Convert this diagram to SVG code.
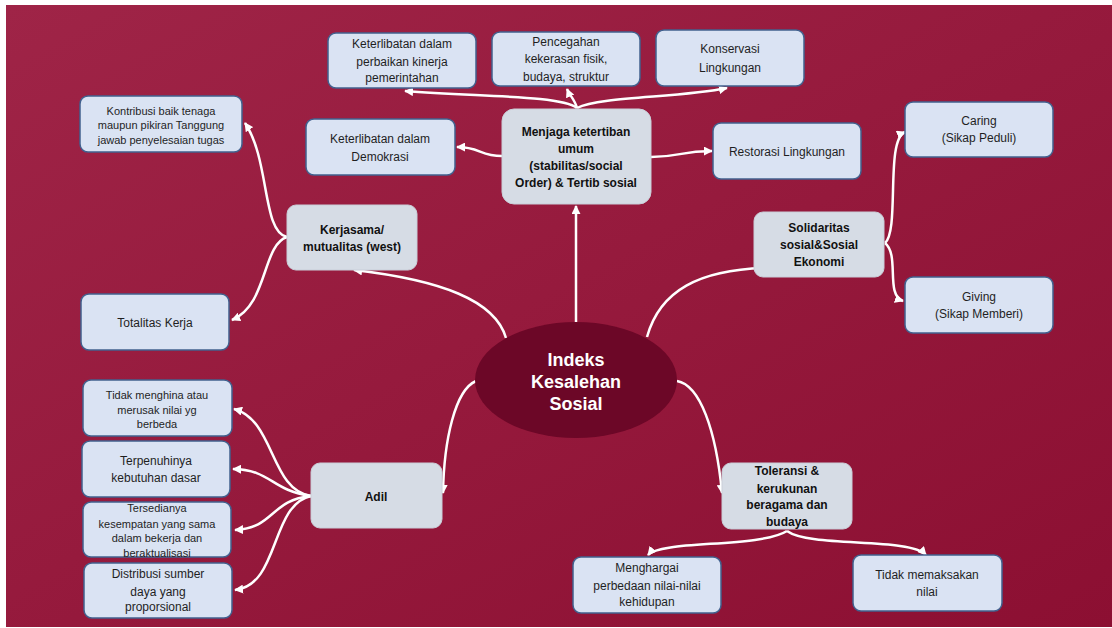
<svg xmlns="http://www.w3.org/2000/svg" width="1112" height="628" viewBox="0 0 1112 628">
<defs>
<linearGradient id="bg" x1="0" y1="0" x2="1" y2="1">
<stop offset="0" stop-color="#9f2447"/>
<stop offset="1" stop-color="#8c0f32"/>
</linearGradient>
<marker id="ah" viewBox="0 0 10 10" refX="9" refY="5" markerWidth="9" markerHeight="9" markerUnits="userSpaceOnUse" orient="auto">
<path d="M0,0 L10,5 L0,10 z" fill="#ffffff"/>
</marker>
</defs>
<style>
.lb{fill:#dae3f3;stroke:#41618f;stroke-width:1.5}
.gb{fill:#d6dce5;stroke:#c9ced8;stroke-width:1}
.t{font-family:"Liberation Sans",Arial,sans-serif;font-size:12px;fill:#1f1f1f;text-anchor:middle}
.s{font-size:11px}
.b{font-weight:bold;fill:#111}
.c{fill:none;stroke:#ffffff;stroke-width:2.5;marker-end:url(#ah)}
.ct{font-family:"Liberation Sans",Arial,sans-serif;font-size:18px;font-weight:bold;fill:#ffffff;text-anchor:middle}
</style>
<rect x="0" y="0" width="1112" height="628" fill="#ffffff"/>
<rect x="6" y="5" width="1106" height="622" fill="url(#bg)"/>

<g id="connectors">
<path class="c" d="M576,323 L576,206"/>
<path class="c" d="M506,338 C495,300 440,280 354,270"/>
<path class="c" d="M647,337 C660,290 700,270 764,268"/>
<path class="c" d="M476,381 C455,390 444,440 443,493"/>
<path class="c" d="M677,381 C700,385 716,430 722,493"/>
<path class="c" d="M577,108 C560,95 480,97 405,91"/>
<path class="c" d="M577,108 C575,100 570,96 567,89"/>
<path class="c" d="M577,108 C600,96 680,98 727,88"/>
<path class="c" d="M502,156 C480,156 480,147 457,147"/>
<path class="c" d="M651,157 C680,157 680,151 712,151"/>
<path class="c" d="M287,237 C262,232 270,160 245,123"/>
<path class="c" d="M287,237 C262,245 268,305 232,320"/>
<path class="c" d="M885,243 C900,230 885,140 905,132"/>
<path class="c" d="M885,243 C900,255 885,295 903,301"/>
<path class="c" d="M311,496 C270,490 275,420 234,409"/>
<path class="c" d="M311,496 C270,490 272,470 233,469"/>
<path class="c" d="M311,496 C270,500 275,528 235,530"/>
<path class="c" d="M311,496 C270,505 280,585 235,590"/>
<path class="c" d="M787,531 C760,548 660,540 648,555"/>
<path class="c" d="M787,531 C810,548 910,537 926,555"/>
</g>

<g id="center">
<ellipse cx="576" cy="380" rx="101" ry="58" fill="#6c0727"/>
<text class="ct" x="576" y="366">Indeks</text>
<text class="ct" x="576" y="388">Kesalehan</text>
<text class="ct" x="576" y="410">Sosial</text>
</g>

<g id="menjaga">
<rect class="gb" x="502" y="109" width="149" height="95" rx="12"/>
<text class="t b" x="576" y="136">Menjaga ketertiban</text>
<text class="t b" x="576" y="153">umum</text>
<text class="t b" x="576" y="170">(stabilitas/social</text>
<text class="t b" x="576" y="187">Order) &amp; Tertib sosial</text>
</g>

<g id="perbaikan">
<rect class="lb" x="328" y="33" width="148" height="55" rx="8"/>
<text class="t" x="402" y="48">Keterlibatan dalam</text>
<text class="t" x="402" y="66">perbaikan kinerja</text>
<text class="t" x="402" y="82">pemerintahan</text>
</g>

<g id="pencegahan">
<rect class="lb" x="492" y="32" width="148" height="54" rx="8"/>
<text class="t" x="566" y="46">Pencegahan</text>
<text class="t" x="566" y="63">kekerasan fisik,</text>
<text class="t" x="566" y="81">budaya, struktur</text>
</g>

<g id="konservasi">
<rect class="lb" x="656" y="30" width="148" height="56" rx="8"/>
<text class="t" x="730" y="53">Konservasi</text>
<text class="t" x="730" y="72">Lingkungan</text>
</g>

<g id="demokrasi">
<rect class="lb" x="306" y="119" width="149" height="56" rx="8"/>
<text class="t" x="380" y="143">Keterlibatan dalam</text>
<text class="t" x="380" y="161">Demokrasi</text>
</g>

<g id="restorasi">
<rect class="lb" x="713" y="123" width="148" height="56" rx="8"/>
<text class="t" x="787" y="156">Restorasi Lingkungan</text>
</g>

<g id="caring">
<rect class="lb" x="905" y="102" width="148" height="55" rx="8"/>
<text class="t" x="979" y="125">Caring</text>
<text class="t" x="979" y="142">(Sikap Peduli)</text>
</g>

<g id="solidaritas">
<rect class="gb" x="754" y="212" width="130" height="65" rx="9"/>
<text class="t b" x="819" y="232">Solidaritas</text>
<text class="t b" x="819" y="249">sosial&amp;Sosial</text>
<text class="t b" x="819" y="266">Ekonomi</text>
</g>

<g id="giving">
<rect class="lb" x="905" y="277" width="148" height="56" rx="8"/>
<text class="t" x="979" y="301">Giving</text>
<text class="t" x="979" y="318">(Sikap Memberi)</text>
</g>

<g id="kontribusi">
<rect class="lb" x="80" y="96" width="162" height="56" rx="8"/>
<text class="t s" x="161" y="115">Kontribusi baik tenaga</text>
<text class="t s" x="161" y="129">maupun pikiran Tanggung</text>
<text class="t s" x="161" y="144">jawab penyelesaian tugas</text>
</g>

<g id="kerjasama">
<rect class="gb" x="287" y="205" width="130" height="65" rx="9"/>
<text class="t b" x="352" y="234">Kerjasama/</text>
<text class="t b" x="352" y="251">mutualitas (west)</text>
</g>

<g id="totalitas">
<rect class="lb" x="81" y="294" width="148" height="56" rx="8"/>
<text class="t" x="155" y="327">Totalitas Kerja</text>
</g>

<g id="menghina">
<rect class="lb" x="83" y="380" width="149" height="56" rx="8"/>
<text class="t s" x="157" y="399">Tidak menghina atau</text>
<text class="t s" x="157" y="414">merusak nilai yg</text>
<text class="t s" x="157" y="428">berbeda</text>
</g>

<g id="terpenuhinya">
<rect class="lb" x="82" y="441" width="148" height="56" rx="8"/>
<text class="t" x="156" y="465">Terpenuhinya</text>
<text class="t" x="156" y="482">kebutuhan dasar</text>
</g>

<g id="tersedianya">
<rect class="lb" x="83" y="502" width="148" height="55" rx="8"/>
<text class="t s" x="157" y="512">Tersedianya</text>
<text class="t s" x="157" y="528">kesempatan yang sama</text>
<text class="t s" x="157" y="542">dalam bekerja dan</text>
<text class="t s" x="157" y="557">beraktualisasi</text>
</g>

<g id="distribusi">
<rect class="lb" x="84" y="563" width="148" height="55" rx="8"/>
<text class="t" x="158" y="578">Distribusi sumber</text>
<text class="t" x="158" y="596">daya yang</text>
<text class="t" x="158" y="611">proporsional</text>
</g>

<g id="adil">
<rect class="gb" x="311" y="463" width="131" height="65" rx="9"/>
<text class="t b" x="376" y="501">Adil</text>
</g>

<g id="toleransi">
<rect class="gb" x="722" y="463" width="130" height="66" rx="9"/>
<text class="t b" x="787" y="475">Toleransi &amp;</text>
<text class="t b" x="787" y="493">kerukunan</text>
<text class="t b" x="787" y="509">beragama dan</text>
<text class="t b" x="787" y="526">budaya</text>
</g>

<g id="menghargai">
<rect class="lb" x="573" y="557" width="148" height="56" rx="8"/>
<text class="t" x="647" y="572">Menghargai</text>
<text class="t" x="647" y="590">perbedaan nilai-nilai</text>
<text class="t" x="647" y="606">kehidupan</text>
</g>

<g id="memaksakan">
<rect class="lb" x="853" y="555" width="149" height="56" rx="8"/>
<text class="t" x="927" y="579">Tidak memaksakan</text>
<text class="t" x="927" y="596">nilai</text>
</g>
</svg>
